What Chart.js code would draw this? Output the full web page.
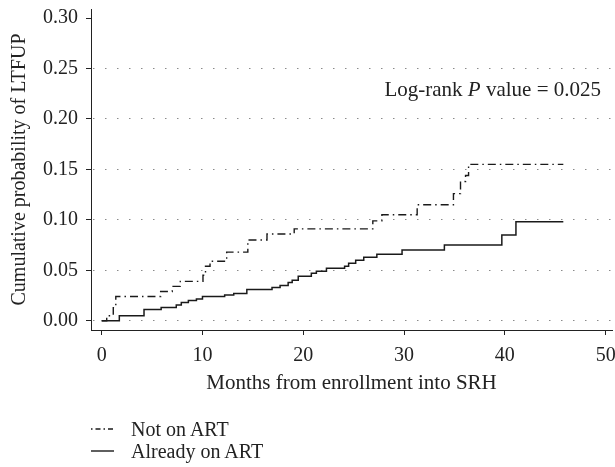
<!DOCTYPE html>
<html>
<head>
<meta charset="utf-8">
<script src="https://cdn.jsdelivr.net/npm/chart.js@4/dist/chart.umd.min.js"></script>
<style>
body { margin: 0; background: #fff; }
#wrap { position: relative; width: 615px; height: 467px; }
#legend { position: absolute; left: 91px; top: 418px; font-family: "Liberation Serif", serif; font-size: 20px; color: #222; }
#legend div { height: 22px; display: flex; align-items: center; white-space: nowrap; }
#legend svg { margin-right: 17px; }
</style>
</head>
<body>
<div id="wrap">
    <canvas id="graph" width="615" height="467"></canvas>
    <div id="legend">
        <div><svg width="23" height="4"><line x1="0" y1="2" x2="23" y2="2" stroke="#1a1a1a" stroke-width="1.3" stroke-dasharray="1.5,3,5,3"/></svg><span id="lg0"></span></div>
        <div><svg width="23" height="4"><line x1="0" y1="2" x2="23" y2="2" stroke="#1a1a1a" stroke-width="1.4"/></svg><span id="lg1"></span></div>
    </div>
</div>
<script>
var CHART   = null;

// months since enrollment / cumulative probability of LTFUP
let not_art_month   = [0, 0.5, 1.15, 1.4, 5.85, 7.0, 7.8, 10.05, 10.3, 10.75, 12.4, 14.5, 16.4, 19.1, 26.9, 27.8, 31.3, 34.9, 35.6, 36.1, 36.4, 45.8];
let not_art_prob    = [0, 0.005, 0.013, 0.024, 0.029, 0.034, 0.039, 0.045, 0.054, 0.059, 0.068, 0.080, 0.086, 0.091, 0.099, 0.105, 0.115, 0.126, 0.138, 0.144, 0.155, 0.155];

let on_art_month    = [0, 1.75, 4.2, 5.9, 7.4, 7.9, 8.6, 9.4, 10.0, 12.2, 13.1, 14.4, 16.9, 17.7, 18.5, 18.9, 19.5, 20.8, 21.3, 22.3, 24.1, 24.5, 25.2, 26.0, 27.3, 29.8, 34.0, 39.7, 41.1, 45.8];
let on_art_prob     = [0, 0.005, 0.011, 0.013, 0.0155, 0.018, 0.020, 0.0215, 0.024, 0.0255, 0.027, 0.031, 0.033, 0.035, 0.038, 0.040, 0.044, 0.047, 0.049, 0.052, 0.054, 0.057, 0.060, 0.063, 0.066, 0.070, 0.075, 0.085, 0.098, 0.098];

let series_labels   = ["Not on ART", "Already on ART"];
let x_ticks         = [0, 10, 20, 30, 40, 50];
let y_ticks         = [0, 0.05, 0.10, 0.15, 0.20, 0.25, 0.30];
let p_text          = ["Log-rank ", "P", " value = 0.025"];

window.addEventListener("load", function(){
    document.getElementById("lg0").textContent = series_labels[0];
    document.getElementById("lg1").textContent = series_labels[1];
    draw_graph();
});

function to_points(xs, ys){
    let pts = [];
    for (let i = 0; i < xs.length; i++){
        pts.push({ x: xs[i], y: ys[i] });
    }
    return pts;
}

// keep the plot box fixed: no extra room for half tick labels
function no_pad(s){
    s.paddingTop    = 0;
    s.paddingBottom = 0;
    s.paddingLeft   = 0;
    s.paddingRight  = 0;
}

// the log-rank note, "P" in italics, right aligned inside the plot
let p_label = {
    id: "p_label",
    afterDraw: function(chart){
        let c       = chart.ctx;
        let fonts   = ["21px 'Liberation Serif'", "italic 21px 'Liberation Serif'", "21px 'Liberation Serif'"];
        let y       = chart.scales.y.getPixelForValue(0.228);
        let w       = 0;
        c.save();
        for (let i = 0; i < p_text.length; i++){
            c.font = fonts[i];
            w += c.measureText(p_text[i]).width;
        }
        let x = chart.chartArea.right - 11 - w;
        c.fillStyle     = "#222";
        c.textBaseline  = "middle";
        c.textAlign     = "left";
        for (let i = 0; i < p_text.length; i++){
            c.font = fonts[i];
            c.fillText(p_text[i], x, y);
            x += c.measureText(p_text[i]).width;
        }
        c.restore();
    }
};

function draw_graph(){

    let ctx     = document.getElementById("graph");
    let font    = { family: "'Liberation Serif', serif", size: 20 };
    let font_t  = { family: "'Liberation Serif', serif", size: 21 };
    let ink     = "#222";
    let curve   = "#1a1a1a";

    let data    = {
        datasets: [ {
            label: series_labels[0],
            data: to_points(not_art_month, not_art_prob),
            stepped: true,
            borderColor: curve,
            borderWidth: 1.4,
            borderDash: [8, 4, 1.5, 4],
            pointRadius: 0,
            fill: false
        }, {
            label: series_labels[1],
            data: to_points(on_art_month, on_art_prob),
            stepped: true,
            borderColor: curve,
            borderWidth: 1.5,
            pointRadius: 0,
            fill: false
        } ]
    };

    let options = {
        responsive: false,
        animation: false,
        events: [],
        layout: { padding: { top: 9, right: 3, left: 8, bottom: 71 } },
        plugins: {
            legend: { display: false },
            tooltip: { enabled: false }
        },
        scales: {
            x: {
                type: "linear",
                min: -1.06,
                max: 50.63,
                afterBuildTicks: function(s){ s.ticks = x_ticks.map(v => ({ value: v })); },
                afterFit: function(s){ s.height = 66; no_pad(s); },
                grid: { drawOnChartArea: false, drawTicks: true, tickLength: 5, tickColor: ink, tickWidth: 1 },
                border: { display: true, color: ink, width: 1 },
                ticks: { font: font, color: ink, padding: 9, maxRotation: 0 },
                title: { display: true, text: "Months from enrollment into SRH", font: font_t, color: ink, padding: 0 }
            },
            y: {
                type: "linear",
                min: -0.0092,
                max: 0.309,
                afterBuildTicks: function(s){ s.ticks = y_ticks.map(v => ({ value: v })); },
                afterFit: function(s){ s.width = 83; no_pad(s); },
                grid: {
                    color: function(c){ return (c.tick && c.tick.value < 0.28) ? "#8a8a8a" : "rgba(0,0,0,0)"; },
                    lineWidth: 1,
                    tickLength: 5,
                    tickColor: ink,
                    tickWidth: 1,
                    tickBorderDash: []
                },
                border: { display: true, color: ink, width: 1, dash: [1.5, 10.5], dashOffset: 11 },
                ticks: { font: font, color: ink, padding: 8, callback: function(v){ return Number(v).toFixed(2); } },
                title: { display: true, text: "Cumulative probability of LTFUP", font: font, color: ink, padding: 0 }
            }
        }
    };

    if (CHART) {
        CHART.destroy();
    }
    CHART   = new Chart(ctx, {
        type: "line",
        data: data,
        options: options,
        plugins: [p_label]
    });
}
</script>
</body>
</html>
